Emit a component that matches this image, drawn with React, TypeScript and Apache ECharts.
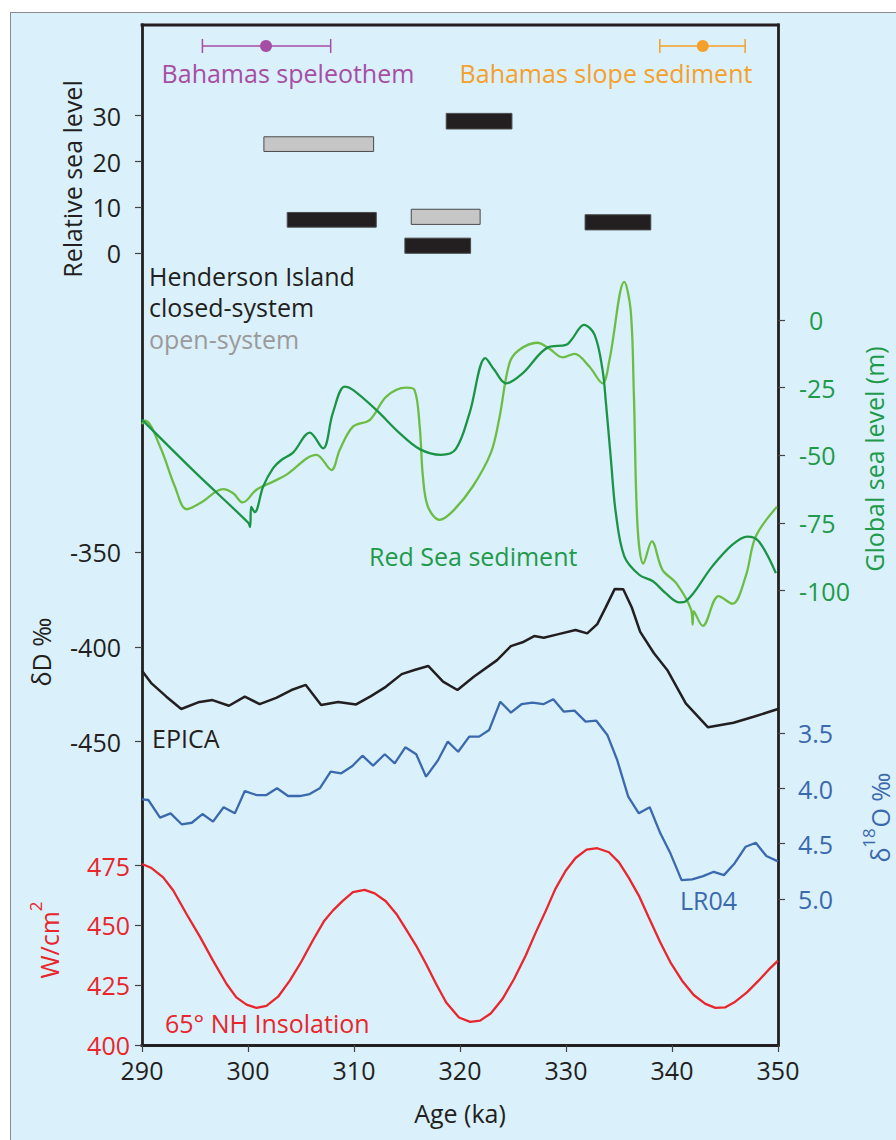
import React, { useEffect, useRef } from 'react';
import * as echarts from 'echarts';

// ---------- Data ----------
const ageTicks = [290, 300, 310, 320, 330, 340, 350];
const relSeaTicks = [0, 10, 20, 30];
const globalSeaTicks = [0, -25, -50, -75, -100];
const deltaDTicks = [-350, -400, -450];
const d18OTicks = [3.5, 4.0, 4.5, 5.0];
const insolationTicks = [400, 425, 450, 475];

// Henderson Island U-series ranges: [ageStart, ageEnd, low, high]
const closedSystemBars = [
  [303.7, 312.1, 5.7, 8.9],
  [314.8, 321.0, 0.0, 3.3],
  [318.7, 324.9, 27.1, 30.5],
  [331.8, 338.0, 5.1, 8.4],
];
const openSystemBars = [
  [301.5, 311.85, 22.2, 25.4],
  [315.4, 321.9, 6.3, 9.6],
];

// Age estimates with uncertainty: [low, mid, high, level]
const speleothemAge = [[295.7, 301.7, 307.8, 45.2]];
const slopeSedimentAge = [[338.85, 342.9, 346.9, 45.2]];

// Red Sea sediment global sea level (m)
const redSeaDark = [
  [290, -36.8], [295, -56.2], [300.0, -74.8], [300.2, -76.5], [300.3, -69], [300.64, -71],
  [301.43, -61.5], [302.37, -54.7], [303.15, -51.7], [304.25, -49], [305.82, -41.6],
  [307.08, -47.4], [308.0, -34.4], [309.12, -24.6], [309.9, -25.8], [312.1, -33.2],
  [314.3, -41.8], [316.2, -47.7], [318.2, -49.8], [319.6, -47.7], [320.9, -34.4],
  [322.4, -14.1], [323.25, -18.5], [324.35, -23.4], [325.9, -19.7], [328.3, -10.1],
  [330.0, -9.2], [330.5, -7.4], [331.7, -1.8], [332.7, -5.5], [333.45, -18.5],
  [333.77, -30.7], [334.24, -51.7], [334.7, -71.3], [335.5, -87.3], [336.9, -94.1],
  [338.2, -96.5], [339.4, -100.9], [340.7, -104.3], [341.3, -103.9], [343.8, -91],
  [345.7, -83], [347.1, -80], [348.2, -81.8], [349.8, -93.5],
];
const redSeaLight = [
  [290, -38.5], [290.3, -37.2], [291.7, -46.7], [293.1, -61.5], [294.2, -69.9], [295.5, -67.6],
  [297.66, -62.5], [298.6, -64], [299.5, -67.4], [300.8, -62.7], [302.37, -59.7],
  [303.6, -57.2], [306.45, -49.8], [307.87, -55.4], [308.65, -48], [309.9, -39.4],
  [311.5, -36.9], [313.05, -28.3], [314.9, -25], [315.7, -25.8], [316.2, -39.4],
  [316.5, -57.8], [316.97, -68.9], [318.07, -73.8], [319.3, -70.7], [321.2, -61.5],
  [322.9, -49.2], [323.7, -36.5], [324.66, -16], [325.6, -11], [327.3, -8.4],
  [328.4, -10.5], [329.7, -13.8], [330.8, -12.5], [332.2, -17.2], [333.45, -23.4],
  [334.1, -14.8], [335.5, 14.1], [336.1, 3.7], [336.4, -27], [336.75, -76.3],
  [337.3, -90], [338.1, -81.8], [339.1, -92.3], [340.4, -97.2], [341.8, -107],
  [341.95, -112.5], [342.05, -107.5], [342.9, -113], [344.4, -102], [345.7, -104.8],
  [346.95, -94.7], [347.9, -80], [349.9, -69],
];

// EPICA deltaD (per mil)
const epica = [
  [290, -412.5], [290.9, -419.2], [292.3, -426.2], [293.7, -432.7], [295.3, -429.2],
  [296.65, -428], [298.2, -431], [299.7, -426.2], [301.1, -430.1], [302.66, -426.8],
  [304.1, -422.7], [305.45, -420], [306.9, -430.6], [308.5, -429], [310.2, -430.3],
  [311.6, -425.9], [313.0, -421], [314.5, -414.3], [315.7, -412.1], [317.0, -410],
  [318.4, -418.3], [319.76, -422.7], [321.3, -415.7], [323.5, -406.9], [324.8, -399.5],
  [325.9, -397.5], [327.0, -394.2], [327.9, -395.1], [329.2, -393.3], [330.9, -391],
  [332.0, -392.8], [332.95, -387.9], [333.7, -379.6], [334.6, -369.3], [335.4, -369.5],
  [336.2, -379], [337.0, -392], [338.3, -403.3], [339.55, -412.1], [341.3, -429.7],
  [343.4, -442.4], [345.8, -440], [347.7, -436.8], [350, -432.7],
];

// LR04 benthic d18O (per mil)
const lr04 = [
  [290, 4.098], [290.6, 4.104], [291.7, 4.264], [292.7, 4.225], [293.74, 4.324], [294.7, 4.31],
  [295.7, 4.231], [296.7, 4.3], [297.7, 4.17], [298.76, 4.225], [299.7, 4.023], [300.8, 4.059],
  [301.74, 4.059], [302.74, 3.998], [303.78, 4.068], [304.88, 4.068], [305.82, 4.05],
  [306.77, 3.998], [307.8, 3.848], [308.8, 3.862], [309.85, 3.796], [310.8, 3.703],
  [311.8, 3.793], [312.9, 3.69], [313.84, 3.772], [314.84, 3.627], [315.87, 3.69],
  [316.8, 3.893], [317.9, 3.748], [318.85, 3.575], [319.83, 3.667], [320.87, 3.53],
  [321.8, 3.53], [322.75, 3.47], [323.8, 3.214], [324.8, 3.313], [325.8, 3.237],
  [326.83, 3.223], [327.86, 3.237], [328.8, 3.192], [329.8, 3.304], [330.8, 3.295],
  [331.85, 3.395], [332.86, 3.386], [333.9, 3.515], [334.83, 3.742], [335.87, 4.074],
  [336.87, 4.225], [337.9, 4.17], [338.9, 4.406], [339.85, 4.587], [340.9, 4.829],
  [341.9, 4.823], [342.94, 4.793], [343.94, 4.754], [344.9, 4.784], [345.9, 4.678],
  [346.95, 4.527], [347.9, 4.491], [348.9, 4.611], [350, 4.66],
];

// 65N insolation (W/cm2)
const insolation = [
  [290, 475.7], [290.9, 474], [292, 470.1], [292.95, 464.6], [294.2, 454.8], [295.5, 445],
  [296.7, 435.3], [297.98, 425.5], [298.9, 419.9], [299.86, 416.9], [300.8, 415.5],
  [301.74, 416.4], [302.84, 420.2], [303.94, 426.9], [305.0, 434.6], [306.1, 443.6],
  [307.2, 452], [308.0, 456.2], [308.96, 460.4], [309.9, 463.9], [311.0, 464.9],
  [311.95, 463.4], [313.0, 460.1], [314.0, 454.8], [314.9, 448.5], [315.87, 441.5],
  [316.8, 433.9], [317.75, 425.5], [318.7, 417.8], [319.9, 411.5], [320.96, 409.7],
  [321.9, 410.2], [322.9, 413.2], [324.0, 419.2], [325.1, 427.6], [326.2, 437.4],
  [327.15, 447.1], [328.1, 456.2], [329.0, 465.3], [329.97, 472.9], [330.9, 478.2],
  [331.94, 481.7], [332.95, 482.3], [334.05, 480.6], [335.0, 476.4], [335.9, 470.1],
  [336.87, 462.5], [337.8, 453.4], [338.9, 442.9], [339.85, 434.6], [340.95, 426.9],
  [342.05, 420.9], [343.15, 417.2], [344.1, 415.5], [345.0, 415.7], [345.97, 418.1],
  [347.07, 422], [348.17, 426.9], [349.1, 431.4], [350, 435.3],
];

// ---------- Styles ----------
const FONT = '"Open Sans", "Noto Sans", sans-serif';
const FS = 25;
const BLACK = '#231f20';
const DARK_GREEN = '#1c9446';
const LIGHT_GREEN = '#6dbd45';
const GREEN_TEXT = '#1f9a4b';
const BLUE = '#3b69ae';
const RED = '#e8262b';
const PURPLE = '#a64ea6';
const ORANGE = '#f5a02a';
const GRAY_TEXT = '#9a9a9a';
const TICK = '#444444';

const tickStyle = { show: true, length: 7, lineStyle: { color: TICK, width: 1.2 } };
const frameLine = { show: true, onZero: false, lineStyle: { color: BLACK, width: 2.8, cap: 'square' } };

function txt(x: number, y: number, text: string, color: string, align = 'left', rotation = 0, extra: any = {}) {
  const fs = extra.fontSize || FS;
  return {
    type: 'text',
    x,
    y,
    rotation,
    silent: true,
    z: 10,
    style: {
      text,
      fill: color,
      font: `${fs}px ${FONT}`,
      fontSize: fs,
      fontFamily: FONT,
      align,
      textAlign: align,
      verticalAlign: 'middle',
      textVerticalAlign: 'middle',
      ...extra,
    },
  };
}

function barSeries(data: number[][], fill: string) {
  return {
    type: 'custom',
    xAxisIndex: 0,
    yAxisIndex: 0,
    encode: { x: [0, 1], y: [2, 3] },
    data,
    z: 5,
    renderItem: (_p: any, api: any) => {
      const a = api.coord([api.value(0), api.value(3)]);
      const b = api.coord([api.value(1), api.value(2)]);
      return {
        type: 'rect',
        shape: { x: a[0], y: a[1], width: b[0] - a[0], height: b[1] - a[1] },
        style: { fill, stroke: '#4a4a4a', lineWidth: 1 },
      };
    },
  };
}

function errorSeries(data: number[][], color: string) {
  return {
    type: 'custom',
    xAxisIndex: 0,
    yAxisIndex: 0,
    encode: { x: [0, 1, 2], y: 3 },
    data,
    z: 5,
    renderItem: (_p: any, api: any) => {
      const lo = api.coord([api.value(0), api.value(3)]);
      const mid = api.coord([api.value(1), api.value(3)]);
      const hi = api.coord([api.value(2), api.value(3)]);
      const ls = { stroke: color, lineWidth: 1.5 };
      return {
        type: 'group',
        children: [
          { type: 'line', shape: { x1: lo[0], y1: lo[1], x2: hi[0], y2: hi[1] }, style: ls },
          { type: 'line', shape: { x1: lo[0], y1: lo[1] - 7, x2: lo[0], y2: lo[1] + 7 }, style: ls },
          { type: 'line', shape: { x1: hi[0], y1: hi[1] - 7, x2: hi[0], y2: hi[1] + 7 }, style: ls },
          { type: 'circle', shape: { cx: mid[0], cy: mid[1], r: 6 }, style: { fill: color } },
        ],
      };
    },
  };
}

function lineSeries(name: string, data: number[][], yAxisIndex: number, color: string, smooth: number | boolean, width = 2.3) {
  return {
    name,
    type: 'line',
    xAxisIndex: 0,
    yAxisIndex,
    data,
    showSymbol: false,
    symbol: 'none',
    smooth,
    z: 4,
    lineStyle: { color, width },
  };
}

function yAxis(min: number, max: number, position: string, ticks: number[], color: string, margin: number, extra: any = {}) {
  return {
    type: 'value',
    min,
    max,
    position,
    offset: 0,
    axisLine: extra.line ? frameLine : { show: false, onZero: false },
    splitLine: { show: false },
    axisTick: { ...tickStyle, customValues: ticks },
    axisLabel: {
      customValues: ticks,
      color,
      fontSize: FS,
      fontFamily: FONT,
      margin,
      ...(extra.axisLabel || {}),
    },
    ...(extra.axis || {}),
  };
}

const supRich = {
  a: { fontSize: FS, fontFamily: FONT, lineHeight: 44 },
  s: { fontSize: 17, fontFamily: FONT, lineHeight: 17, verticalAlign: 'top' },
};

const option: any = {
  animation: false,
  backgroundColor: 'transparent',
  grid: {
    left: 142,
    right: 118,
    top: 25,
    bottom: 95,
    show: false,
  },
  xAxis: {
    type: 'value',
    min: 290,
    max: 350,
    interval: 10,
    position: 'bottom',
    axisLine: frameLine,
    splitLine: { show: false },
    axisTick: { ...tickStyle, customValues: ageTicks },
    axisLabel: { customValues: ageTicks, color: BLACK, fontSize: FS, fontFamily: FONT, margin: 12 },
    name: 'Age (ka)',
    nameLocation: 'middle',
    nameGap: 55,
    nameTextStyle: { color: BLACK, fontSize: FS, fontFamily: FONT },
  },
  yAxis: [
    // 0: Relative sea level (Henderson Island)
    yAxis(-172.6, 49.77, 'left', relSeaTicks, BLACK, 21, { line: true }),
    // 1: Global sea level (Red Sea)
    yAxis(-267.8, 108.97, 'right', globalSeaTicks, GREEN_TEXT, 21, {
      line: true,
      axisLabel: {
        formatter: (v: number) => (v === 0 ? '{z|0}' : String(v)),
        rich: { z: { padding: [0, 0, 0, 10], fontSize: FS, fontFamily: FONT, color: GREEN_TEXT } },
      },
    }),
    // 2: EPICA deltaD
    yAxis(-610.1, -71.6, 'left', deltaDTicks, BLACK, 21),
    // 3: LR04 d18O (inverted)
    yAxis(-2.912, 6.322, 'right', d18OTicks, BLUE, 20, {
      axisLabel: { formatter: (v: number) => v.toFixed(1) },
      axis: { inverse: true },
    }),
    // 4: Insolation
    yAxis(400, 826.6, 'left', insolationTicks, RED, 12),
  ],
  graphic: [
    // top edge of the plot frame
    {
      type: 'line',
      silent: true,
      z: 10,
      shape: { x1: 142, y1: 25, x2: 778, y2: 25 },
      style: { stroke: BLACK, lineWidth: 2.8, lineCap: 'square' },
    },
    txt(288, 73, 'Bahamas speleothem', PURPLE, 'center'),
    txt(606, 73, 'Bahamas slope sediment', ORANGE, 'center'),
    txt(149, 276, 'Henderson Island', BLACK),
    txt(149, 307, 'closed-system', BLACK),
    txt(149, 339, 'open-system', GRAY_TEXT),
    txt(369, 556, 'Red Sea sediment', GREEN_TEXT),
    txt(152, 738, 'EPICA', BLACK),
    txt(680, 900, 'LR04', BLUE),
    txt(165, 1023, '65° NH Insolation', RED),
    txt(72, 179, 'Relative sea level', BLACK, 'center', Math.PI / 2),
    txt(41, 652, 'δD ‰', BLACK, 'center', Math.PI / 2),
    txt(874, 459, 'Global sea level (m)', GREEN_TEXT, 'center', Math.PI / 2),
    txt(49, 940, '{a|W/cm}{s|2}', RED, 'center', Math.PI / 2, { rich: supRich }),
    txt(880, 855, 'δ', BLUE, 'center', Math.PI / 2, { lineHeight: 26 }),
    txt(868, 838, '18', BLUE, 'center', Math.PI / 2, { fontSize: 17, lineHeight: 18 }),
    txt(880, 800, 'O ‰', BLUE, 'center', Math.PI / 2, { lineHeight: 26 }),
  ],
  series: [
    barSeries(openSystemBars, '#c6c6c6'),
    barSeries(closedSystemBars, BLACK),
    errorSeries(speleothemAge, PURPLE),
    errorSeries(slopeSedimentAge, ORANGE),
    lineSeries('Red Sea (light)', redSeaLight, 1, LIGHT_GREEN, 0.35),
    lineSeries('Red Sea (dark)', redSeaDark, 1, DARK_GREEN, 0.35),
    lineSeries('EPICA', epica, 2, BLACK, false, 2.5),
    lineSeries('LR04', lr04, 3, BLUE, false),
    lineSeries('Insolation', insolation, 4, RED, false),
  ],
};

export default function App() {
  const ref = useRef<HTMLDivElement>(null);
  useEffect(() => {
    const chart = echarts.init(ref.current!, undefined, { renderer: 'svg' });
    chart.setOption(option);
    return () => chart.dispose();
  }, []);
  return (
    <div style={{ position: 'absolute', left: 0, top: 0, width: 896, height: 1140, overflow: 'hidden', background: '#ffffff' }}>
      <div
        style={{
          position: 'absolute',
          left: 10,
          top: 12,
          width: 900,
          height: 1140,
          background: '#daf0fb',
          borderLeft: '1.5px solid #8c8c8c',
          borderTop: '1.5px solid #8c8c8c',
          boxSizing: 'border-box',
        }}
      />
      <div ref={ref} style={{ position: 'absolute', left: 0, top: 0, width: 896, height: 1140 }} />
    </div>
  );
}
